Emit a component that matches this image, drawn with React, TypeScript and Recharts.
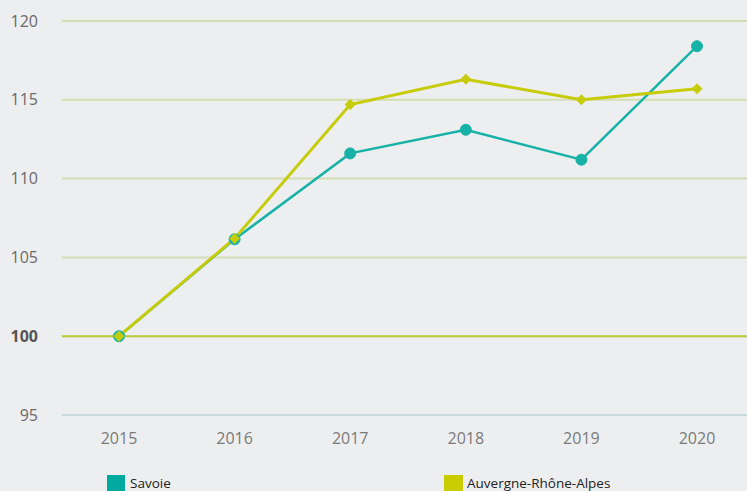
import React from "react";
import {
  LineChart,
  Line,
  XAxis,
  YAxis,
  CartesianGrid,
  ReferenceLine,
} from "recharts";

const years = ["2015", "2016", "2017", "2018", "2019", "2020"];
const savoie = [100, 106.15, 111.6, 113.1, 111.2, 118.4];
const auvergne = [100, 106.2, 114.7, 116.3, 115.0, 115.7];
const yTicks = [95, 100, 105, 110, 115, 120];

const TEAL = "#17b2a7";
const LIME = "#c6cc0a";

const data = years.map((y, i) => ({
  year: y,
  savoie: savoie[i],
  auvergne: auvergne[i],
}));

const Diamond = (props: any) => {
  const { cx, cy } = props;
  if (cx == null || cy == null) return null;
  const r = 5.5;
  return (
    <polygon
      points={`${cx},${cy - r} ${cx + r},${cy} ${cx},${cy + r} ${cx - r},${cy}`}
      fill={LIME}
    />
  );
};

const YTick = (props: any) => {
  const { x, y, payload } = props;
  const bold = payload.value === 100;
  return (
    <text
      x={x}
      y={y}
      dy="0.35em"
      textAnchor="end"
      fill={bold ? "#555" : "#6a6a6a"}
      fontWeight={bold ? 700 : 400}
      fontSize={16}
      fontFamily="'Open Sans', sans-serif"
    >
      {payload.value}
    </text>
  );
};

const LegendBox = () => (
  <div
    style={{
      position: "absolute",
      left: 0,
      top: 474,
      width: 747,
      height: 17,
      fontFamily: "'Open Sans', sans-serif",
      fontSize: 13.5,
      lineHeight: "16px",
      color: "#222",
    }}
  >
    <div style={{ position: "absolute", left: 107, top: 1, width: 18, height: 18, background: "#00aa9e" }} />
    <span style={{ position: "absolute", left: 130, top: 1 }}>Savoie</span>
    <div style={{ position: "absolute", left: 444, top: 1, width: 19, height: 18, background: "#c8cc00" }} />
    <span style={{ position: "absolute", left: 467, top: 1 }}>Auvergne-Rhône-Alpes</span>
  </div>
);

export default function App() {
  return (
    <div style={{ position: "absolute", left: 0, top: 0, background: "#edeef0", width: 747, height: 491, overflow: "hidden" }}>
      <LineChart
        width={747}
        height={491}
        data={data}
        margin={{ top: 21, right: 0, bottom: 50, left: 0 }}
      >
        <CartesianGrid vertical={false} stroke="#d3deb2" strokeWidth={2} />
        <XAxis
          dataKey="year"
          axisLine={{ stroke: "#c6d8ea", strokeWidth: 1.5 }}
          tickLine={false}
          tickSize={0}
          tickMargin={18}
          height={26}
          padding={{ left: 57, right: 50 }}
          tick={{ fill: "#7a7a7a", fontSize: 16, fontFamily: "'Open Sans', sans-serif" }}
        />
        <YAxis
          domain={[95, 120]}
          ticks={yTicks}
          width={62}
          axisLine={false}
          tickLine={false}
          tickSize={0}
          tickMargin={24}
          tick={<YTick />}
        />
        <ReferenceLine y={100} stroke="#bccb3e" strokeWidth={2} />
        <Line
          dataKey="savoie"
          stroke={TEAL}
          strokeWidth={2.5}
          dot={{ r: 5.5, fill: TEAL, stroke: TEAL, strokeWidth: 1 }}
          activeDot={false}
          isAnimationActive={false}
        />
        <Line
          dataKey="auvergne"
          stroke={LIME}
          strokeWidth={3}
          dot={<Diamond />}
          activeDot={false}
          isAnimationActive={false}
        />
      </LineChart>
      <LegendBox />
    </div>
  );
}
